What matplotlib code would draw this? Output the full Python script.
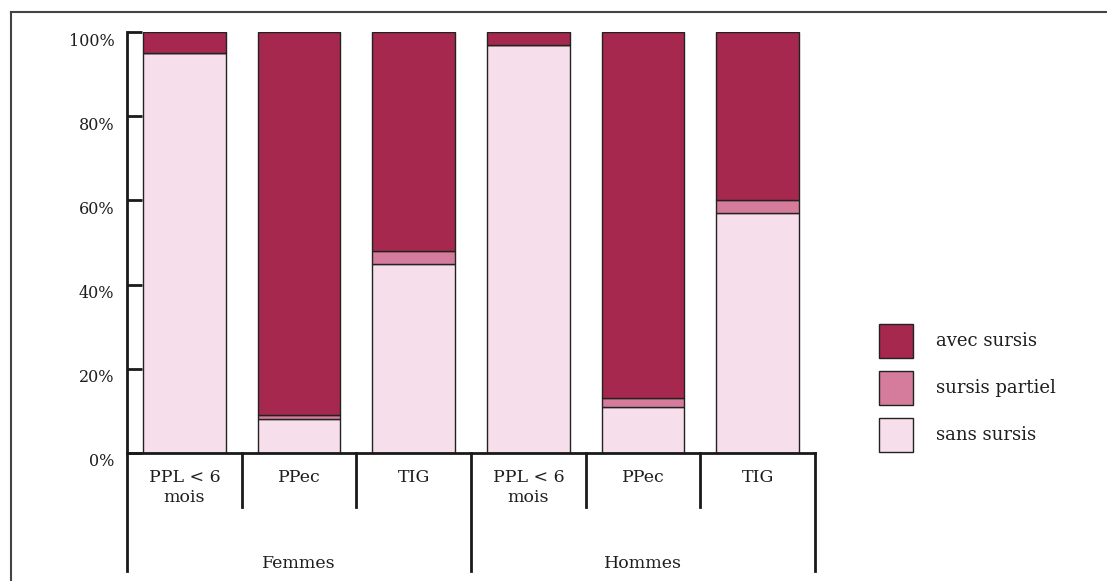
import matplotlib
matplotlib.use("Agg")
import matplotlib.pyplot as plt
import matplotlib.transforms as mtransforms
from matplotlib.patches import Patch
import numpy as np

plt.rcParams['font.family'] = ['DejaVu Serif']

categories = ["PPL < 6\nmois", "PPec", "TIG", "PPL < 6\nmois", "PPec", "TIG"]
groups = ["Femmes", "Hommes"]
sans_sursis = [95, 8, 45, 97, 11, 57]
sursis_partiel = [0, 1, 3, 0, 2, 3]
avec_sursis = [5, 91, 52, 3, 87, 40]
series_labels = ["avec sursis", "sursis partiel", "sans sursis"]
yticks = [0, 20, 40, 60, 80, 100]
ytick_labels = ["0%", "20%", "40%", "60%", "80%", "100%"]

c_avec = "#a6284f"
c_part = "#d57b9b"
c_sans = "#f6dfeb"
edge = "#222222"
txt = "#1e1e1e"

W, H = 1107, 581
fig = plt.figure(figsize=(W / 100, H / 100), dpi=100)

# outer frame (top and left visible)
fig.add_artist(plt.Line2D([11 / W, 1.0], [1 - 12 / H, 1 - 12 / H], color="#444444", lw=1.5))
fig.add_artist(plt.Line2D([11 / W, 11 / W], [0, 1 - 12 / H], color="#444444", lw=1.5))

ax = fig.add_axes([127 / W, 1 - 453 / H, (815 - 127) / W, (453 - 32) / H])
x = np.arange(len(categories))
bw = 0.72
sans = np.array(sans_sursis)
part = np.array(sursis_partiel)
avec = np.array(avec_sursis)
ax.bar(x, sans, bw, color=c_sans, edgecolor=edge, linewidth=1.0)
ax.bar(x, part, bw, bottom=sans, color=c_part, edgecolor=edge, linewidth=1.0)
ax.bar(x, avec, bw, bottom=sans + part, color=c_avec, edgecolor=edge, linewidth=1.0)

ax.set_xlim(-0.5, len(categories) - 0.5)
ax.set_ylim(0, 100)
for s in ["top", "right", "bottom"]:
    ax.spines[s].set_visible(False)
ax.spines["left"].set_linewidth(2)
ax.spines["left"].set_color("#1a1a1a")

ax.set_yticks(yticks)
ax.set_yticklabels(ytick_labels, fontsize=11.5, color=txt)
ax.tick_params(axis="y", direction="in", length=11, width=2, color="#1a1a1a", pad=9)
offset = mtransforms.ScaledTranslation(0, -7 / 100, fig.dpi_scale_trans)
for lab in ax.get_yticklabels():
    lab.set_transform(lab.get_transform() + offset)
ax.set_xticks([])

trans = mtransforms.blended_transform_factory(ax.transData, ax.transAxes)
# x axis line
ax.plot([-0.5, len(categories) - 0.5], [0, 0], color="#1a1a1a", lw=2, transform=trans, clip_on=False)
short = -(507 - 453) / 421
long_ = -(571 - 453) / 421
n_per = 3
for i in range(len(categories) + 1):
    xb = i - 0.5
    y1 = long_ if i % n_per == 0 else short
    ax.plot([xb, xb], [0, y1], color="#1a1a1a", lw=2, transform=trans, clip_on=False)

for i, c in enumerate(categories):
    ax.text(i, -(469 - 453) / 421, c, transform=trans, ha="center", va="top",
            fontsize=12.5, linespacing=1.2, color=txt)
for g, name in enumerate(groups):
    ax.text(g * n_per + (n_per - 1) / 2, -(564 - 453) / 421, name, transform=trans,
            ha="center", va="center", fontsize=12.5, color=txt)

handles = [Patch(facecolor=c_avec, edgecolor=edge, linewidth=1.0),
           Patch(facecolor=c_part, edgecolor=edge, linewidth=1.0),
           Patch(facecolor=c_sans, edgecolor=edge, linewidth=1.0)]
fig.legend(handles, series_labels, loc="upper left",
           bbox_to_anchor=(879 / W, 1 - 324 / H), frameon=False, fontsize=13,
           handlelength=1.88, handleheight=2.52, handletextpad=1.3,
           labelspacing=0.72, borderpad=0, borderaxespad=0, labelcolor=txt)

fig.savefig("out.png", dpi=100)
